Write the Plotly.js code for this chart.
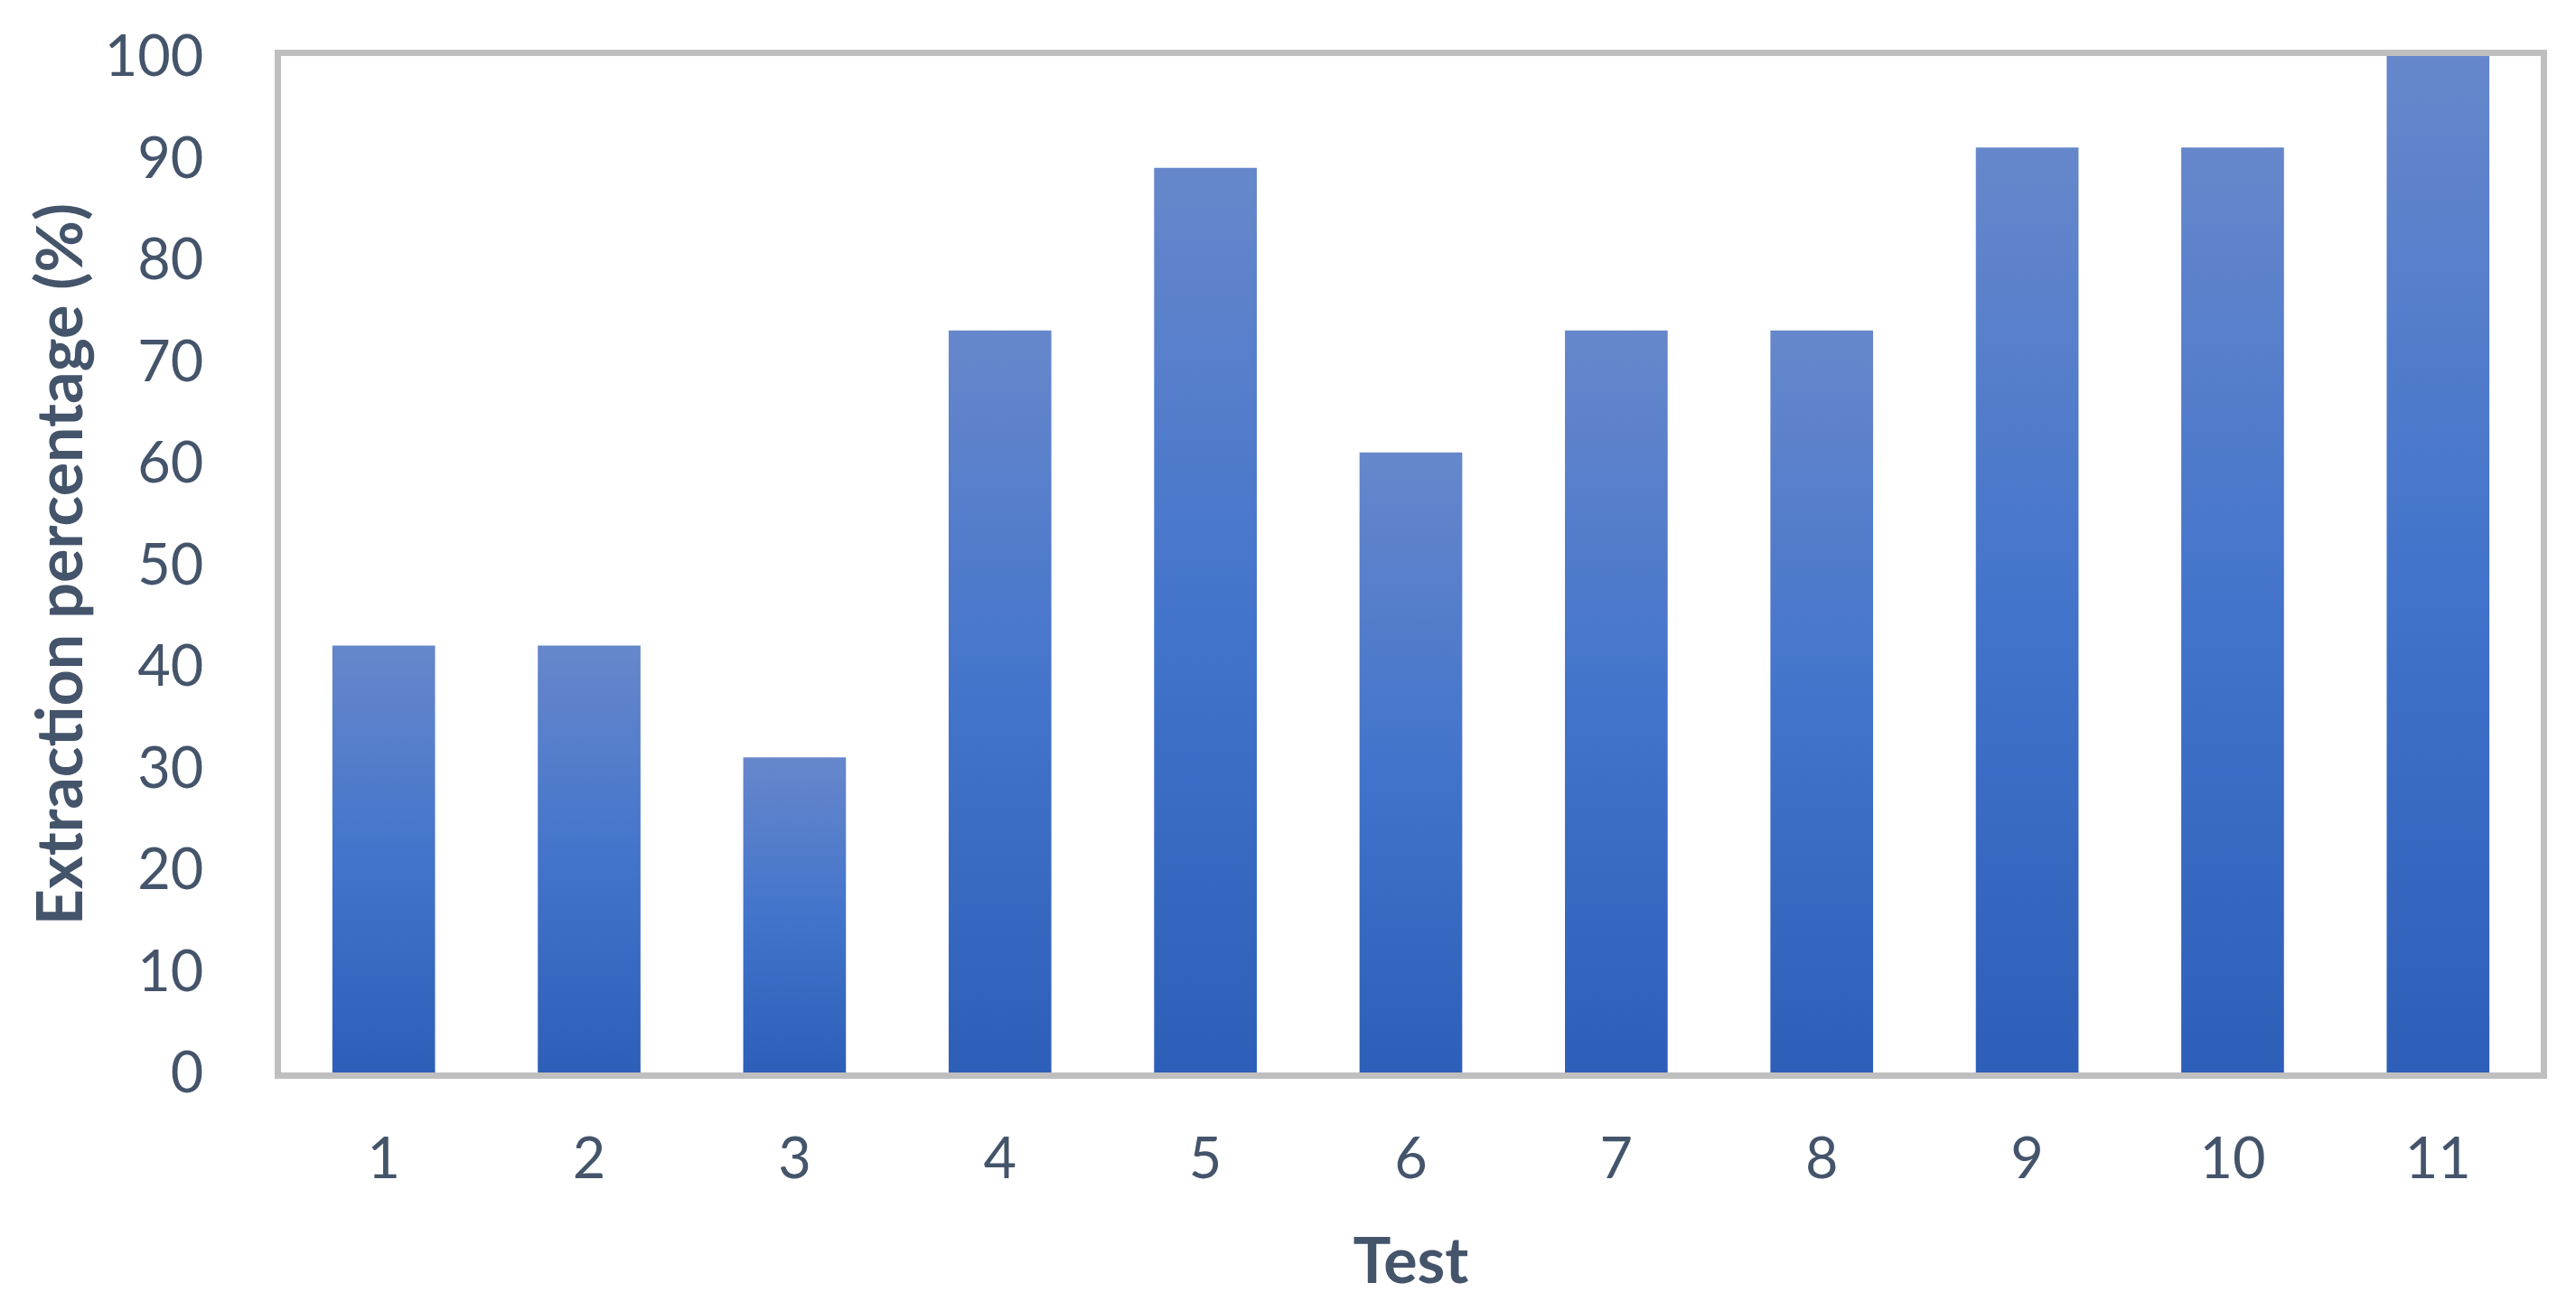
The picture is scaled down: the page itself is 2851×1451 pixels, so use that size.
<!DOCTYPE html>
<html>
<head>
<meta charset="utf-8">
<script src="https://cdn.plot.ly/plotly-3.0.1.min.js"></script>
<style>
  html, body { margin: 0; padding: 0; background: #fff; }
  #chart { width: 2851px; height: 1451px; }
</style>
</head>
<body>
<div id="chart"></div>
<script>
// test numbers and extraction values
var tests = ["1", "2", "3", "4", "5", "6", "7", "8", "9", "10", "11"];
var extraction = [42, 42, 31, 73, 89, 61, 73, 73, 91, 91, 100];
var yTicks = [0, 10, 20, 30, 40, 50, 60, 70, 80, 90, 100];

var textColor = "#44546A";
var frameColor = "#BFBFBF";

var trace = {
  x: tests,
  y: extraction,
  type: "bar",
  marker: { color: "#4472C4", line: { width: 0 } },
  hoverinfo: "skip"
};

var layout = {
  width: 2851,
  height: 1451,
  margin: { l: 311, r: 39, t: 62, b: 264, pad: 0 },
  paper_bgcolor: "#ffffff",
  plot_bgcolor: "#ffffff",
  bargap: 0.5,
  showlegend: false,
  font: { family: "Lato, 'Open Sans', sans-serif", color: textColor },
  xaxis: {
    type: "category",
    showline: true, mirror: true, linecolor: frameColor, linewidth: 7,
    showgrid: false, zeroline: false, ticks: "",
    ticklabelstandoff: 34,
    tickfont: { size: 63, color: textColor },
    title: { text: "Test", font: { size: 70, color: textColor, weight: "bold" }, standoff: 58 }
  },
  yaxis: {
    range: [0, 100],
    tickvals: yTicks,
    showline: true, mirror: true, linecolor: frameColor, linewidth: 7,
    showgrid: false, zeroline: false, ticks: "",
    ticklabelstandoff: 66,
    tickfont: { size: 63, color: textColor },
    title: { text: "Extraction percentage (%)", font: { size: 70, color: textColor, weight: "bold" }, standoff: 4 }
  }
};

var gd = document.getElementById("chart");

// Excel-style vertical gradient on each bar (lighter at top)
function addGradient() {
  var svg = gd.querySelector(".main-svg");
  var ns = "http://www.w3.org/2000/svg";
  var defs = document.createElementNS(ns, "defs");
  var grad = document.createElementNS(ns, "linearGradient");
  grad.setAttribute("id", "barGrad");
  grad.setAttribute("x1", "0"); grad.setAttribute("y1", "0");
  grad.setAttribute("x2", "0"); grad.setAttribute("y2", "1");
  [["0%", "#6687CB"], ["50%", "#4374CB"], ["100%", "#2E5FB8"]].forEach(function (s) {
    var stop = document.createElementNS(ns, "stop");
    stop.setAttribute("offset", s[0]);
    stop.setAttribute("stop-color", s[1]);
    grad.appendChild(stop);
  });
  defs.appendChild(grad);
  svg.insertBefore(defs, svg.firstChild);
  gd.querySelectorAll(".bars .point path").forEach(function (p) {
    p.style.fill = "url(#barGrad)";
  });
}

Plotly.newPlot(gd, [trace], layout, { staticPlot: true }).then(addGradient);
</script>
</body>
</html>
